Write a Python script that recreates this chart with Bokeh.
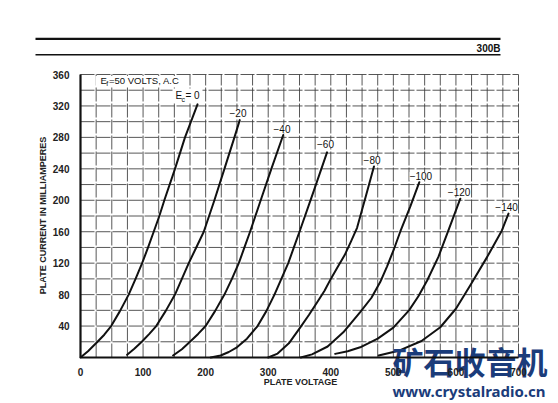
import math
from bokeh.plotting import figure
from bokeh.models import Range1d, Label
from bokeh.embed import file_html
from bokeh.resources import INLINE

# ---------------- data ----------------
tube = "300B"
x_title = "PLATE VOLTAGE"
y_title = "PLATE CURRENT IN MILLIAMPERES"
filament_note = "=50 VOLTS, A.C"
x_tick_values = [0, 100, 200, 300, 400, 500, 600, 700]
y_tick_values = [40, 80, 120, 160, 200, 240, 280, 320, 360]

bias_labels = ["0", "−20", "−40", "−60", "−80", "−100", "−120", "−140"]

ec0_volts = [0, 12, 26, 38, 49, 63, 77, 88, 98.5, 108, 117, 126, 134, 151, 167, 187]
ec0_ma = [0, 8, 19, 29, 40, 59, 80, 100, 120, 140, 160, 180, 200, 240, 280, 322]

ec20_volts = [74.5, 86, 98, 110, 121, 136, 151, 162, 173, 185, 197, 214, 230, 246, 254.5]
ec20_ma = [3.4, 11, 20, 30, 40, 59, 80, 100, 120, 140, 160, 200, 240, 280, 302]

ec40_volts = [148, 162, 175, 188, 200, 215, 230, 242, 253, 262, 271, 288, 305, 324]
ec40_ma = [2.5, 10.5, 20, 30, 40, 59, 80, 100, 120, 140, 160, 200, 240, 283]

ec60_volts = [208, 224, 237, 250, 266, 283, 297, 310, 321, 332, 341, 350, 372, 394]
ec60_ma = [0, 2.5, 7, 13, 24, 40, 59, 80, 100, 120, 140, 160, 210, 261]

ec80_volts = [300, 315, 333, 351, 365, 378, 390, 400, 411, 422, 432, 442, 456, 469]
ec80_ma = [0, 5, 18, 38, 54, 70, 85, 100, 115, 130, 147, 165, 205, 243]

ec100_volts = [352, 370, 395, 420, 447, 465, 479, 490, 501, 511, 527, 541.5]
ec100_ma = [0, 4, 14, 32, 57.6, 76, 96, 116, 138, 160, 192, 223]

ec120_volts = [407, 427, 447, 475, 500, 525, 540, 554, 572, 588, 607]
ec120_ma = [4.6, 8, 13, 24, 38, 60, 78, 98, 128, 161.6, 202]

ec140_volts = [476.5, 510, 545, 575, 600, 623, 650, 673.5, 684]
ec140_ma = [2.5, 9, 21, 38.5, 62, 92, 128, 161.6, 183]

watermark_cn = "矿石收音机"
watermark_url = "www.crystalradio.cn"

curves = [
    (ec0_volts, ec0_ma), (ec20_volts, ec20_ma), (ec40_volts, ec40_ma),
    (ec60_volts, ec60_ma), (ec80_volts, ec80_ma), (ec100_volts, ec100_ma),
    (ec120_volts, ec120_ma), (ec140_volts, ec140_ma),
]

# ---------------- layout / style ----------------
FONT = "Liberation Sans"
INK = "#111111"
W, H = 556, 401                 # canvas size
X_MAX, Y_MAX = 700, 360         # plotted data box
ORG_X, ORG_Y = 80, 357          # canvas pixel of (0 V, 0 mA)
BOX_W, BOX_H = 438, 283         # pixel size of the data box
PX_V = BOX_W / X_MAX
PX_I = BOX_H / Y_MAX

x_start, x_end = -ORG_X / PX_V, (W - ORG_X) / PX_V
y_start, y_end = (ORG_Y - H) / PX_I, ORG_Y / PX_I

p = figure(width=W, height=H, x_range=Range1d(x_start, x_end), y_range=Range1d(y_start, y_end),
           output_backend="svg", toolbar_location=None, min_border=0)
p.extra_x_ranges = {"px": Range1d(0, W)}
p.extra_y_ranges = {"px": Range1d(H, 0)}
p.grid.visible = False
p.outline_line_color = None
p.background_fill_color = "white"
p.border_fill_color = "white"

# chart grid (25 V x 20 mA)
gx = list(range(0, X_MAX + 1, 25))
gy = list(range(0, Y_MAX + 1, 20))
grid_style = dict(line_color="#3a3a3a", line_alpha=0.85, line_width=1, line_dash="14 2")
p.segment(x0=gx, y0=[0] * len(gx), x1=gx, y1=[Y_MAX] * len(gx), **grid_style)
p.segment(x0=[0] * len(gy), y0=gy, x1=[X_MAX] * len(gy), y1=gy, **grid_style)

# axes drawn at the data origin
p.xaxis.fixed_location = 0
p.yaxis.fixed_location = 0
p.xaxis.bounds = (0, X_MAX)
p.yaxis.bounds = (0, Y_MAX)
p.xaxis.ticker = x_tick_values
p.yaxis.ticker = y_tick_values
for ax in (p.xaxis, p.yaxis):
    ax.axis_line_width = 2.2
    ax.axis_line_color = INK
    ax.major_tick_line_color = None
    ax.minor_tick_line_color = None
    ax.major_label_text_font = FONT
    ax.major_label_text_font_size = "10px"
    ax.major_label_text_font_style = "bold"
    ax.major_label_text_color = "#222222"
p.xaxis.major_label_standoff = 4
p.yaxis.major_label_standoff = 5

# curves
for vx, iy in curves:
    p.line(vx, iy, line_color=INK, line_width=2, line_join="round", line_cap="round")

# axis titles
px = dict(x_range_name="px", y_range_name="px")
p.text(x=[300], y=[381], text=[x_title], text_align="center", text_baseline="middle",
       text_font={"value": FONT}, text_font_size="9px", text_font_style="bold",
       text_color="#222222", **px)
p.text(x=[42], y=[215], text=[y_title], angle=math.pi / 2, text_align="center",
       text_baseline="middle", text_font={"value": FONT}, text_font_size="9px",
       text_font_style="bold", text_color="#222222", **px)

# header rules and tube type
p.segment(x0=[35, 35], y0=[38.3, 54.3], x1=[500, 500], y1=[38.3, 54.3],
          line_width=[2.2, 1.6], line_color=INK, **px)
p.text(x=[500], y=[47.5], text=[tube], text_align="right", text_baseline="middle",
       text_font={"value": FONT}, text_font_size="10px", text_font_style="bold",
       text_color=INK, **px)

# bias labels at curve tops
label_pos = [(251.7, 310.4), (322, 291), (391.5, 271.6), (466, 251),
             (544, 231), (605, 211), (681, 192)]
for txt, (lx, ly) in zip(bias_labels[1:], label_pos):
    p.add_layout(Label(x=lx, y=ly, text=txt, text_align="center", text_baseline="middle",
                       text_font=FONT, text_font_size="10px", text_color=INK,
                       background_fill_color="white", background_fill_alpha=1.0))

# E_c = 0 label
p.quad(left=[172], right=[202], top=[88], bottom=[102], fill_color="white",
       line_color=None, **px)
p.text(x=[175, 185], y=[95, 95], text=["E", "= " + bias_labels[0]], text_align="left",
       text_baseline="middle", text_font={"value": FONT}, text_font_size="10px",
       text_color=INK, **px)
p.text(x=[181], y=[99], text=["c"], text_align="left", text_baseline="middle",
       text_font={"value": FONT}, text_font_size="7px", text_color=INK, **px)

# filament note
p.quad(left=[95], right=[183], top=[75.5], bottom=[86.5], fill_color="white",
       line_color=None, **px)
p.text(x=[100, 108.5], y=[79.5, 79.5], text=["E", filament_note], text_align="left",
       text_baseline="middle", text_font={"value": FONT}, text_font_size="9.5px",
       text_color=INK, **px)
p.text(x=[105.8], y=[83], text=["f"], text_align="left", text_baseline="middle",
       text_font={"value": FONT}, text_font_size="7px", text_color=INK, **px)

# watermark overlay
p.text(x=[392], y=[360], text=[watermark_cn], text_align="left", text_baseline="middle",
       text_font={"value": "Noto Sans CJK SC"}, text_font_size="31px",
       text_font_style="bold", text_color="#1b3c7a", **px)
p.text(x=[392], y=[390], text=[watermark_url], text_align="left", text_baseline="middle",
       text_font={"value": "Noto Sans"}, text_font_size="15px", text_font_style="bold",
       text_color="#1b3c7a", **px)

open("out.html", "w").write(file_html(p, INLINE))
